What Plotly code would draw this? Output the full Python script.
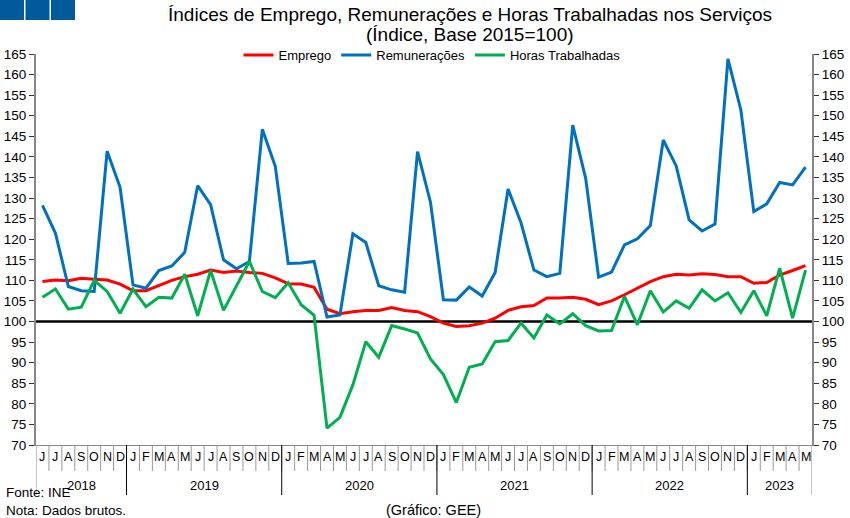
import plotly.graph_objects as go

months = ["J","J","A","S","O","N","D"] + ["J","F","M","A","M","J","J","A","S","O","N","D"] * 4 + ["J","F","M","A","M"]
years = ["2018", "2019", "2020", "2021", "2022", "2023"]
year_counts = [7, 12, 12, 12, 12, 5]

emprego = [109.7, 110.1, 109.9, 110.5, 110.3, 110.1, 109.1, 107.5, 107.5, 108.7,
           110.0, 110.9, 111.5, 112.5, 111.9, 112.3, 111.9, 111.7, 110.6, 109.2,
           109.1, 108.3, 103.0, 101.9, 102.4, 102.7, 102.7, 103.4, 102.7, 102.4,
           101.2, 99.6, 98.8, 99.0, 99.6, 100.8, 102.7, 103.6, 103.9, 105.7,
           105.7, 105.9, 105.4, 104.1, 105.0, 106.5, 108.1, 109.7, 110.9, 111.5,
           111.3, 111.6, 111.4, 110.9, 110.9, 109.3, 109.5, 111.3, 112.4, 113.6]

remuneracoes = [128.2, 121.5, 108.5, 107.5, 107.3, 141.4, 132.6, 108.9, 108.1, 112.4,
                113.5, 116.8, 133.0, 128.4, 115.0, 112.8, 114.6, 146.7, 137.7, 114.1,
                114.2, 114.6, 101.1, 101.6, 121.3, 119.2, 108.7, 107.7, 107.1, 141.3,
                129.0, 105.3, 105.2, 108.4, 106.2, 111.9, 132.2, 124.0, 112.5, 110.9,
                111.7, 147.7, 134.8, 110.8, 112.0, 118.6, 120.1, 123.3, 144.1, 137.8,
                124.7, 122.0, 123.7, 163.8, 151.4, 126.7, 128.6, 133.8, 133.2, 137.5]

horas = [105.9, 107.9, 103.0, 103.5, 110.0, 107.3, 102.0, 107.9, 103.6, 105.9,
         105.7, 111.5, 101.4, 112.4, 102.7, 108.5, 114.6, 107.3, 105.8, 109.4,
         104.1, 101.5, 74.1, 76.7, 84.6, 95.1, 91.3, 99.0, 98.2, 97.2,
         90.9, 87.1, 80.3, 88.9, 89.7, 95.1, 95.4, 99.6, 96.0, 101.6,
         99.4, 101.9, 99.0, 97.7, 97.8, 106.1, 99.2, 107.5, 102.3, 105.0,
         103.2, 107.7, 105.0, 107.0, 102.2, 107.5, 101.4, 113.0, 100.8, 112.5]

base_value = 100
y_ticks = list(range(70, 166, 5))

n = len(months)
x = list(range(n))

W, H = 850, 518
L, R, T, B = 36, 38, 54, 73
plot_w = W - L - R
plot_h = H - T - B


def px(pix):
    return (pix - L) / plot_w


def py(pix):
    return (H - B - pix) / plot_h


fig = go.Figure()
fig.add_trace(go.Scatter(x=x, y=emprego, name="Emprego", mode="lines",
                         line=dict(color="#ff0000", width=3)))
fig.add_trace(go.Scatter(x=x, y=remuneracoes, name="Remunerações", mode="lines",
                         line=dict(color="#0070c0", width=3)))
fig.add_trace(go.Scatter(x=x, y=horas, name="Horas Trabalhadas", mode="lines",
                         line=dict(color="#00b050", width=3)))
# invisible trace for right axis
fig.add_trace(go.Scatter(x=x, y=emprego, yaxis="y2", showlegend=False,
                         hoverinfo="skip", line=dict(width=0), opacity=0))

shapes = []
shapes.append(dict(type="line", xref="x", yref="y", x0=-0.5, x1=n - 0.5,
                   y0=base_value, y1=base_value, line=dict(color="black", width=2.5), layer="below"))
for i in range(1, n):
    shapes.append(dict(type="line", xref="x", yref="paper", x0=i - 0.5, x1=i - 0.5,
                       y0=0, y1=py(471), line=dict(color="#999999", width=1)))
pos = 0
bounds = [0]
for c in year_counts:
    pos += c
    bounds.append(pos)
for b in bounds:
    shapes.append(dict(type="line", xref="x", yref="paper", x0=b - 0.5, x1=b - 0.5,
                       y0=0, y1=py(495),
                       line=dict(color="#888888" if b in (0, n) else "black", width=1)))

for k in range(3):
    shapes.append(dict(type="rect", xref="paper", yref="paper",
                       x0=px(25.5 * k), x1=px(24 + 25.5 * k),
                       y0=py(20), y1=py(0), fillcolor="#005a9c", line=dict(width=0)))

annotations = []
for i, m in enumerate(months):
    annotations.append(dict(x=i, y=py(457), xref="x", yref="paper", text=m, showarrow=False,
                            font=dict(size=12.5, color="black"), xanchor="center", yanchor="middle"))
start = 0
for yr, c in zip(years, year_counts):
    annotations.append(dict(x=start + (c - 1) / 2, y=py(485), xref="x", yref="paper", text=yr,
                            showarrow=False, font=dict(size=13, color="black"),
                            xanchor="center", yanchor="middle"))
    start += c

fig_title = "Índices de Emprego, Remunerações e Horas Trabalhadas nos Serviços"
annotations.append(dict(x=px(470), y=py(14.5), xref="paper", yref="paper",
                        text=fig_title, showarrow=False, font=dict(size=19, color="black"),
                        xanchor="center", yanchor="middle"))
annotations.append(dict(x=px(470), y=py(35), xref="paper", yref="paper",
                        text="(Índice, Base 2015=100)", showarrow=False,
                        font=dict(size=19, color="black"), xanchor="center", yanchor="middle"))
annotations.append(dict(x=px(4), y=py(492), xref="paper", yref="paper",
                        text="Fonte: INE", showarrow=False, font=dict(size=13.5, color="black"),
                        xanchor="left", yanchor="middle"))
annotations.append(dict(x=px(4), y=py(510), xref="paper", yref="paper",
                        text="Nota: Dados brutos.", showarrow=False, font=dict(size=13.5, color="black"),
                        xanchor="left", yanchor="middle"))
annotations.append(dict(x=px(384), y=py(510), xref="paper", yref="paper",
                        text="(Gráfico: GEE)", showarrow=False, font=dict(size=14.5, color="black"),
                        xanchor="left", yanchor="middle"))

fig.update_layout(
    width=W, height=H,
    margin=dict(l=L, r=R, t=T, b=B, autoexpand=False),
    paper_bgcolor="white", plot_bgcolor="white",
    font=dict(family="Liberation Sans, Arial, sans-serif", size=12, color="black"),
    showlegend=True,
    legend=dict(orientation="h", xref="container", yref="container",
                x=432 / W, y=1 - 55 / H, xanchor="center", yanchor="middle",
                font=dict(size=13), itemwidth=30,
                bgcolor="rgba(0,0,0,0)"),
    xaxis=dict(range=[-0.5, n - 0.5], showticklabels=False, showgrid=False, zeroline=False,
               showline=True, linecolor="#888888", linewidth=1, ticks=""),
    yaxis=dict(range=[70, 165], tickvals=y_ticks, showgrid=False, zeroline=False,
               showline=True, linecolor="#888888", linewidth=2, ticks="outside",
               ticklen=5, tickcolor="#333333", tickfont=dict(size=13.5)),
    yaxis2=dict(range=[70, 165], tickvals=y_ticks, overlaying="y", side="right",
                showgrid=False, zeroline=False, showline=True, linecolor="#888888",
                linewidth=2, ticks="outside", ticklen=5, tickcolor="#333333",
                tickfont=dict(size=13.5)),
    shapes=shapes,
    annotations=annotations,
)

fig.write_html("out.html")
